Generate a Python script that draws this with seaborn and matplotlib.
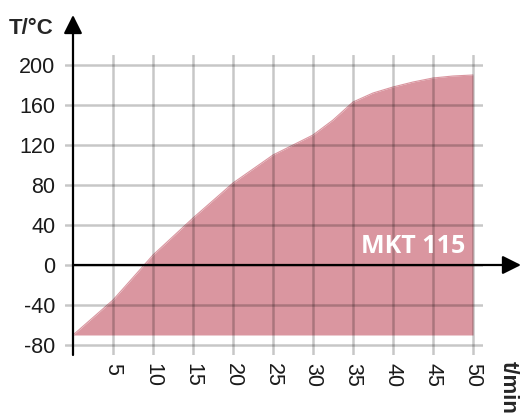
import seaborn as sns
import matplotlib.pyplot as plt
import pandas as pd

# heating curve
time_min = [0, 5, 10, 15, 20, 25, 30, 32.5, 35, 37.5, 40, 42.5, 45, 47.5, 50]
temp_c = [-70, -35, 10, 47, 82, 110, 130, 145, 163, 172, 178, 183, 187, 189, 190]
base_temp = -70

x_ticks = [5, 10, 15, 20, 25, 30, 35, 40, 45, 50]
y_ticks = [-80, -40, 0, 40, 80, 120, 160, 200]
label = "MKT 115"

df = pd.DataFrame({"t": time_min, "T": temp_c})

sns.set_style("white")
plt.rcParams["font.family"] = ["Liberation Sans", "DejaVu Sans"]
plt.rcParams["axes.unicode_minus"] = False

fig = plt.figure(figsize=(5.22, 4.18), dpi=100)
ax = fig.add_axes([65 / 522, 63 / 418, 418 / 522, 300 / 418])

fill_col = "#da96a0"
sns.lineplot(data=df, x="t", y="T", ax=ax, color=fill_col, lw=0.8, zorder=2)
ax.fill_between(df["t"], base_temp, df["T"], color=fill_col, lw=0, zorder=2)

ax.set_xlim(-1, 51.25)
ax.set_ylim(-90, 210)
ax.set_xticks(x_ticks)
ax.set_yticks(y_ticks)
ax.grid(True, color="black", alpha=0.22, lw=1.8, zorder=3)
ax.set_axisbelow(False)
for s in ax.spines.values():
    s.set_visible(False)
ax.tick_params(length=0, labelsize=15.5, colors="#1a1a1a")
ax.tick_params(axis="x", pad=6, labelrotation=-90)
ax.tick_params(axis="y", pad=7)
ax.set_xlabel("")
ax.set_ylabel("")

# axes with arrow heads
ax.annotate("", xy=(0, 250), xytext=(0, -90), annotation_clip=False,
            arrowprops=dict(arrowstyle="-|>", color="black", lw=1.6,
                            mutation_scale=28, shrinkA=0, shrinkB=0), zorder=5)
ax.annotate("", xy=(56, 0), xytext=(0, 0), annotation_clip=False,
            arrowprops=dict(arrowstyle="-|>", color="black", lw=1.6,
                            mutation_scale=28, shrinkA=0, shrinkB=0), zorder=5)

fig.text(9 / 522, 1 - 29 / 418, "T/°C", fontsize=16, fontweight="bold",
         va="center", ha="left")
fig.text(508 / 522, 1 - 361 / 418, "t/min", fontsize=16, fontweight="bold",
         rotation=-90, va="top", ha="center")
ax.text(42.5, 18, label, color="white", fontsize=18, fontweight="bold",
        family=["Open Sans", "DejaVu Sans"], ha="center", va="center", zorder=6)

fig.savefig("out.png", dpi=100)
